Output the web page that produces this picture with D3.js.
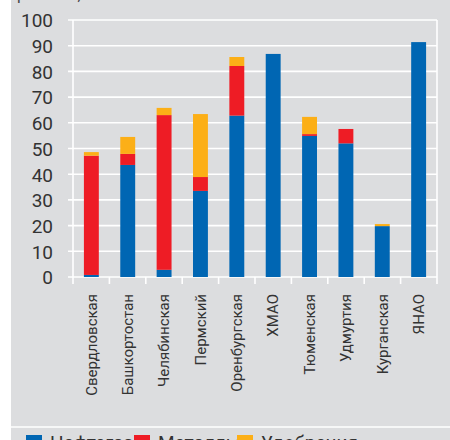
<!DOCTYPE html>
<html><head><meta charset="utf-8">
<script src="https://cdn.jsdelivr.net/npm/d3@7"></script>
<style>
body{margin:0;background:#fff;}
text{font-family:"Liberation Sans Narrow","Roboto","Liberation Sans",sans-serif;}
</style></head>
<body><svg id="c" width="450" height="440"></svg>
<script>
const categories = ["Свердловская","Башкортостан","Челябинская","Пермский","Оренбургская","ХМАО","Тюменская","Удмуртия","Курганская","ЯНАО"];
const seriesNames = ["Нефтегаз","Металлы","Удобрения"];
const oil   = [0.8, 43.6, 2.8, 33.5, 62.8, 86.8, 54.9, 52.0, 19.8, 91.4];
const metal = [46.4, 4.3, 60.2, 5.4, 19.3, 0, 0.7, 5.6, 0, 0];
const other = [1.4, 6.6, 2.8, 24.5, 3.5, 0, 6.7, 0, 0.8, 0];
const yTicks = [0,10,20,30,40,50,60,70,80,90,100];
const colors = ["#0066b3","#ee1c25","#fcaf17"];

const svg = d3.select("#c");
svg.append("rect").attr("x",11).attr("y",0).attr("width",439).attr("height",440).attr("fill","#dcdddf");
svg.append("line").attr("x1",11).attr("x2",450).attr("y1",427).attr("y2",427).attr("stroke","#fff").attr("stroke-width",1.5);

svg.append("text").attr("x",17).attr("y",0).attr("font-size",16).attr("fill","#444").text("региона, %");

const x = d3.scaleBand().domain(categories).range([73,437]).paddingInner(0.59).paddingOuter(0.3);
const y = d3.scaleLinear().domain([0,100]).range([277,20]);

// gridlines
svg.append("g").selectAll("line").data(yTicks).join("line")
  .attr("x1",68).attr("x2",437).attr("y1",d=>y(d)).attr("y2",d=>y(d))
  .attr("stroke","#fff").attr("stroke-width",1.6);
svg.append("line").attr("x1",73).attr("x2",73).attr("y1",y(100)).attr("y2",284).attr("stroke","#fff").attr("stroke-width",1.6);
svg.append("line").attr("x1",437).attr("x2",437).attr("y1",y(100)).attr("y2",284).attr("stroke","#fff").attr("stroke-width",1.6);
const step = 364/categories.length;
svg.append("g").selectAll("line").data(d3.range(1,categories.length)).join("line")
  .attr("x1",d=>73+d*step).attr("x2",d=>73+d*step).attr("y1",277).attr("y2",284)
  .attr("stroke","#fff").attr("stroke-width",1.6);

// y labels
const yAxis = d3.axisLeft(y).tickValues(yTicks).tickSize(0).tickPadding(0);
const ga = svg.append("g").attr("transform","translate(53,0)").call(yAxis);
ga.select(".domain").remove();
ga.selectAll("text").attr("font-size",19).attr("fill","#333").attr("dy","0.36em")
  .style("font-family",'"Liberation Sans Narrow","Roboto",sans-serif');

// stacked bars
const rows = categories.map((c,i)=>({cat:c, a:oil[i], b:metal[i], c2:other[i]}));
const stack = d3.stack().keys(["a","b","c2"])(rows);
svg.append("g").selectAll("g").data(stack).join("g").attr("fill",(d,i)=>colors[i])
  .selectAll("rect").data(d=>d).join("rect")
  .attr("x",d=>x(d.data.cat)).attr("width",x.bandwidth())
  .attr("y",d=>y(d[1])).attr("height",d=>y(d[0])-y(d[1]));

// x labels
const xAxis = d3.axisBottom(x).tickSize(0).tickPadding(0);
const gx = svg.append("g").attr("transform","translate(0,294)").call(xAxis);
gx.select(".domain").remove();
gx.selectAll("text").attr("transform","rotate(-90)").attr("text-anchor","end")
  .attr("x",0).attr("y",0).attr("dy","0.35em").attr("dx",0)
  .attr("font-size",15).attr("fill","#333")
  .style("font-family",'"Liberation Sans Narrow","Roboto",sans-serif');

// legend
const lx = [26,134,237];
const lg = svg.append("g").selectAll("g").data(seriesNames).join("g")
  .attr("transform",(d,i)=>`translate(${lx[i]},435)`);
lg.append("rect").attr("width",16).attr("height",14).attr("fill",(d,i)=>colors[i]);
lg.append("text").attr("x",24).attr("y",14).attr("font-size",19).attr("fill","#333").text(d=>d);
</script></body></html>
